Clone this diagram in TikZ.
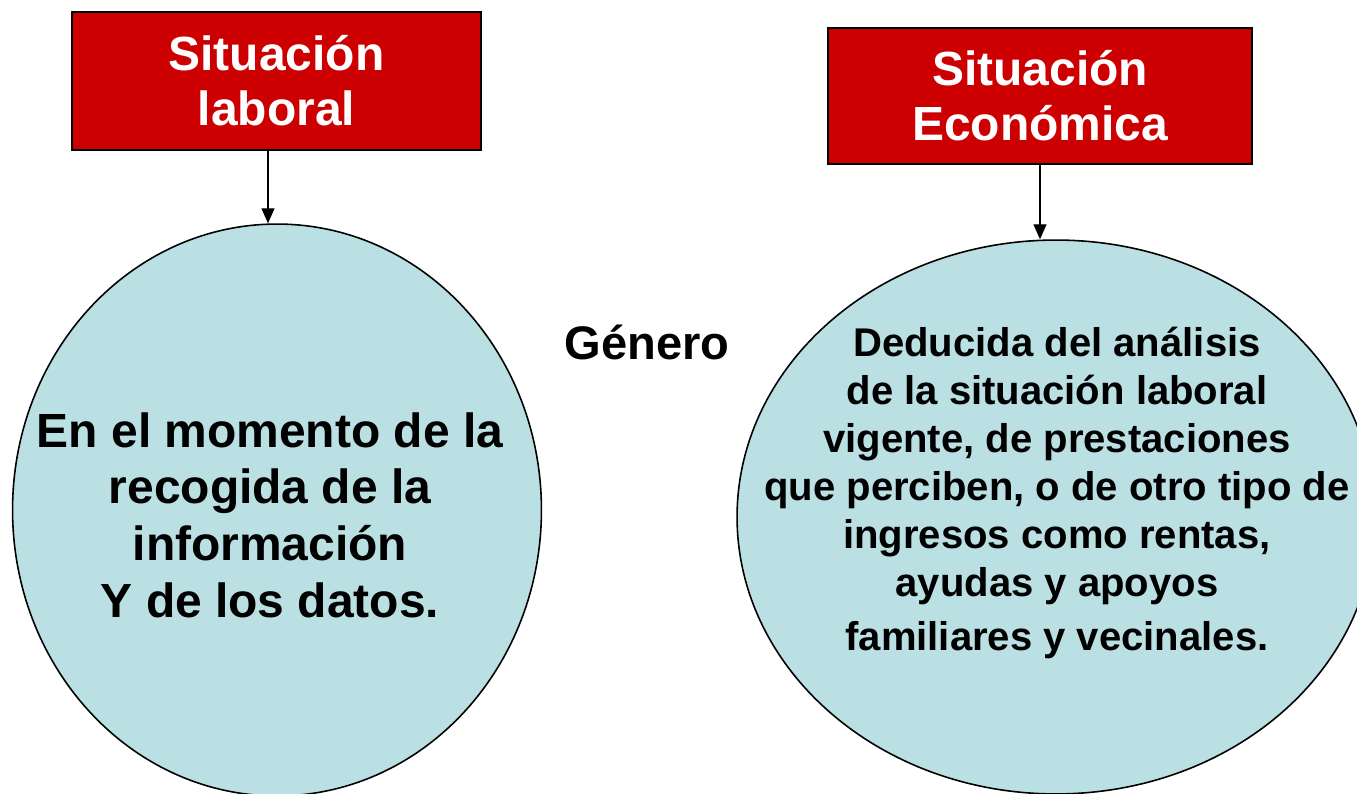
\documentclass[tikz,border=0pt]{standalone}
\usepackage{fontspec}
\setmainfont{Liberation Sans}
\usepackage{tikz}
\usepackage{xcolor}
\usetikzlibrary{arrows.meta,shapes.geometric}

\definecolor{rojo}{RGB}{204,0,0}
\definecolor{celeste}{RGB}{186,224,227}

\begin{document}
\begin{tikzpicture}[x=0.02cm,y=-0.02cm,
	caja/.style={draw=black,line width=0.7pt,fill=rojo,text=white,align=center,inner sep=0pt,
		font=\fontsize{27.3}{31.3}\selectfont\bfseries},
	globo/.style={ellipse,draw=black,line width=0.9pt,fill=celeste,inner sep=0pt},
	flecha/.style={-{Triangle[length=0.3cm,width=0.26cm]},line width=0.8pt}]
\useasboundingbox (0,0) rectangle (1357,794);
\clip (0,0) rectangle (1357,794);

% cajas rojas
\node[caja,minimum width=8.18cm,minimum height=2.76cm] (laboral) at (276.5,81) {Situación\\laboral};
\node[caja,minimum width=8.48cm,minimum height=2.72cm] (economica) at (1040,96) {Situación\\Económica};

% globos
\node[globo,minimum width=10.58cm,minimum height=11.44cm] (momento) at (277,510) {};
\node[globo,minimum width=12.76cm,minimum height=11.08cm] (deducida) at (1056,517) {};

\node[align=center,font=\fontsize{27.3}{32.3}\selectfont\bfseries] (txtmom) at (270,515)
	{En el momento de la\\recogida de la\\información\\Y de los datos.};
\node[align=center,font=\fontsize{22.8}{27.4}\selectfont\bfseries] (txtded) at (1057,493)
	{Deducida del análisis\\de la situación laboral\\vigente, de prestaciones\\que perciben, o de otro tipo de\\ingresos como rentas,\\ayudas y apoyos\\[0.12cm]familiares y vecinales.};

\node[font=\fontsize{26.8}{30}\selectfont\bfseries] (genero) at (647,342) {Género};

% flechas
\draw[flecha] ([xshift=-0.17cm]laboral.south) -- ([xshift=-0.17cm]laboral.south |- momento.north);
\draw[flecha] (economica.south) -- (economica.south |- deducida.north);
\end{tikzpicture}
\end{document}
